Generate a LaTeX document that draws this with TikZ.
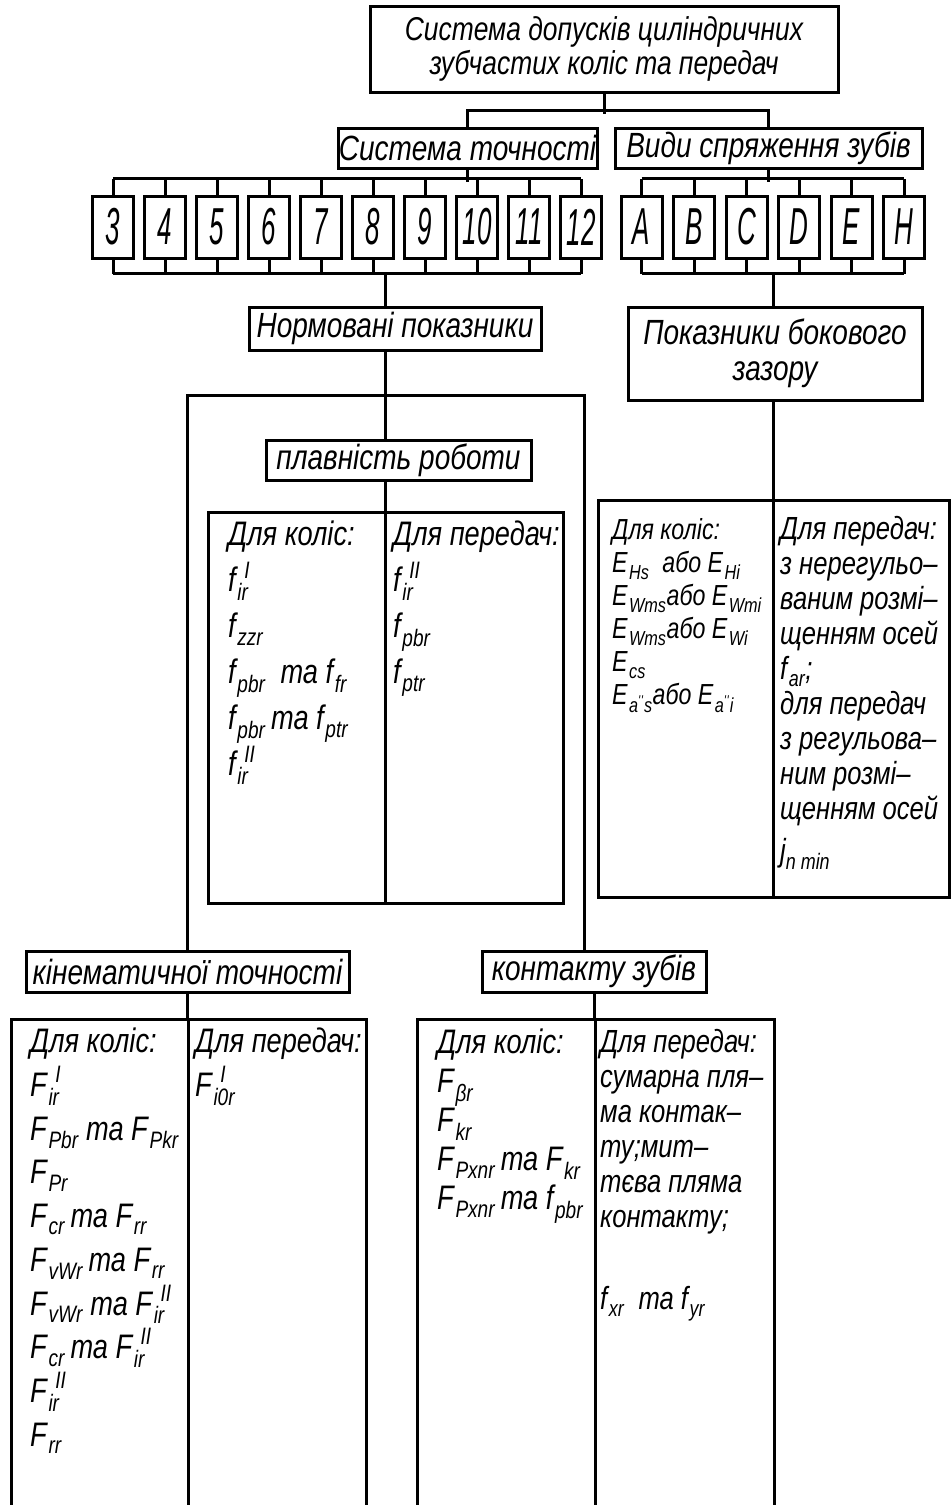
\documentclass[tikz,border=0pt]{standalone}
\usepackage{fontspec}
\setmainfont{Liberation Sans}[FakeStretch=0.8]
\newfontfamily\narrowfont{Liberation Sans}[FakeStretch=0.5]
\usetikzlibrary{positioning}
\lineskiplimit=-100pt
\newcommand{\ix}[2]{#1\kern0.05em\textsubscript{\raisebox{-0.15em}{#2}}}
\newcommand{\ixx}[3]{#1\kern0.05em\rlap{\kern0.2em\textsuperscript{\raisebox{0.2em}{#3}}}\textsubscript{\raisebox{-0.15em}{#2}}}
\newcommand{\dpr}{\textsuperscript{\textquotesingle\textquotesingle}}

\tikzset{
  box/.style={draw,line width=3pt,fill=white,inner sep=0pt,align=center,
    font=\itshape\fontsize{35}{36}\selectfont},
  cell/.style={draw,line width=3pt,inner sep=0pt,minimum width=41,minimum height=62,
    font=\narrowfont\itshape\fontsize{52}{52}\selectfont},
  tabbox/.style={draw,line width=3pt,inner sep=0pt},
  col/.style={anchor=north west,inner sep=0pt,align=left},
  wire/.style={line width=3pt},
}

\begin{document}
\begin{tikzpicture}[x=1pt,y=-1pt]
  \useasboundingbox (0,0) rectangle (951,1505);

  \node[box,minimum width=468,minimum height=86,
    font=\itshape\fontsize{33}{34}\selectfont] (sys) at (604,49)
    {Система допусків циліндричних\\зубчастих коліс та передач};
  \node[box,minimum width=259,minimum height=40] (acc) at (467.5,148) {Система точності};
  \node[box,minimum width=307,minimum height=40] (fit) at (768.5,148) {Види спряження зубів};
  \draw[wire] (sys.south) -- ++(0,20);
  \draw[wire] (acc.north) -- ++(0,-16) -| (fit.north);

  % degrees of accuracy
  \foreach \g [count=\i from 0] in {3,...,12}{
    \node[cell] (n\g) at (113+52*\i,227) {\g};
    \draw[wire] (n\g.north) -- ++(0,-16) (n\g.south) -- ++(0,14);
  }
  \draw[wire] ([shift={(0,-16)}]n3.north) -- ([shift={(0,-16)}]n12.north);
  \draw[wire] ([shift={(0,14)}]n3.south) -- ([shift={(0,14)}]n12.south);
  \draw[wire] (acc.south) -- ++(0,12);

  % kinds of mating
  \foreach \l [count=\i from 0] in {A,B,C,D,E,H}{
    \node[cell] (v\l) at (641.5+52.5*\i,227) {\l};
    \draw[wire] (v\l.north) -- ++(0,-16) (v\l.south) -- ++(0,14);
  }
  \draw[wire] ([shift={(0,-16)}]vA.north) -- ([shift={(0,-16)}]vH.north);
  \draw[wire] ([shift={(0,14)}]vA.south) -- ([shift={(0,14)}]vH.south);
  \draw[wire] (fit.south) -- ++(0,12);

  \node[box,minimum width=292,minimum height=43] (norm) at (395,328.5) {Нормовані показники};
  \node[box,minimum width=294,minimum height=93] (side) at (775,353.5) {Показники бокового\\зазору};
  \node[box,minimum width=265,minimum height=40] (plav) at (398.5,460) {плавність роботи};
  \node[tabbox,minimum width=355,minimum height=391] (plavtab) at (385.5,707.5) {};
  \node[tabbox,minimum width=351,minimum height=397] (sidetab) at (773.5,698.5) {};
  \node[box,minimum width=323,minimum height=41] (kin) at (187.5,971.5) {кінематичної точності};
  \node[box,minimum width=224,minimum height=41] (cont) at (594,971.5) {контакту зубів};
  \node[tabbox,minimum width=355,minimum height=520] (kintab) at (188.5,1279) {};
  \node[tabbox,minimum width=357,minimum height=520] (conttab) at (595.5,1279) {};
  \foreach \t in {plavtab,sidetab,kintab,conttab}
    \draw[wire] (\t.north) -- (\t.south);

  \draw[wire] (plavtab.north |- n8.south) ++(0,14) -- (plavtab.north |- norm.north);
  \draw[wire] (plavtab.north |- norm.south) -- (plavtab.north |- plav.north);
  \draw[wire] (plavtab.north |- plav.south) -- (plavtab.north);
  \draw[wire] (sidetab.north |- vD.south) ++(0,14) -- (sidetab.north |- side.north);
  \draw[wire] (side.south -| sidetab.north) -- (sidetab.north);
  \coordinate (bend) at (584,395);
  \draw[wire] (kin.north) |- (bend) -- (bend |- cont.north);
  \draw[wire] (kin.south) -- (kin.south |- kintab.north);
  \draw[wire] (cont.south) -- (cont.south |- conttab.north);

  % columns of indices
  \node[col,font=\itshape\fontsize{34}{46}\selectfont] (plavl) at (228,521)
    {Для коліс:\\\ixx{f}{ir}{I}\\\ix{f}{zzr}\\\ix{f}{pbr}\ \ та \ix{f}{fr}\\
     \ix{f}{pbr}\,та \ix{f}{ptr}\\\ixx{f}{ir}{II}};
  \node[col,font=\itshape\fontsize{34}{46}\selectfont] (plavr) at (393,521)
    {Для передач:\\\ixx{f}{ir}{II}\\\ix{f}{pbr}\\\ix{f}{ptr}};
  \node[col,font=\itshape\fontsize{29}{33}\selectfont] (sidel) at (612,518)
    {Для коліс:\\\ix{E}{Hs}\ \ або \ix{E}{Hi}\\\ix{E}{Wms}або \ix{E}{Wmi}\\
     \ix{E}{Wms}або \ix{E}{Wi}\\\ix{E}{cs}\\\ix{E}{a\dpr s}або \ix{E}{a\dpr i}};
  \node[col,font=\itshape\fontsize{32}{35}\selectfont] (sider) at (780,516)
    {Для передач:\\з нерегульо–\\ваним розмі–\\щенням осей\\\ix{f}{ar};\\
     для передач\\з регульова–\\ним розмі–\\щенням осей\\[7pt]j\textsubscript{n min}};
  \node[col,font=\itshape\fontsize{34}{43.7}\selectfont] (kinl) at (30,1028)
    {Для коліс:\\\ixx{F}{ir}{I}\\\ix{F}{Pbr}\ та \ix{F}{Pkr}\\\ix{F}{Pr}\\
     \ix{F}{cr}\,та \ix{F}{rr}\\\ix{F}{vWr}\,та \ix{F}{rr}\\\ix{F}{vWr}\ та \ixx{F}{ir}{II}\\
     \ix{F}{cr}\,та \ixx{F}{ir}{II}\\\ixx{F}{ir}{II}\\\ix{F}{rr}};
  \node[col,font=\itshape\fontsize{34}{43.7}\selectfont] (kinr) at (195,1028)
    {Для передач:\\\ixx{F}{i0r}{I}};
  \node[col,font=\itshape\fontsize{34}{39}\selectfont] (contl) at (437,1029)
    {Для коліс:\\\ix{F}{βr}\\\ix{F}{kr}\\\ix{F}{Pxnr}\,та \ix{F}{kr}\\\ix{F}{Pxnr}\,та \ix{f}{pbr}};
  \node[col,font=\itshape\fontsize{32}{35}\selectfont] (contr) at (600,1029)
    {Для передач:\\сумарна пля–\\ма контак–\\ту;мит–\\тєва пляма\\контакту;\\[47pt]
     \ix{f}{xr}\ \ та \ix{f}{yr}};
\end{tikzpicture}
\end{document}
